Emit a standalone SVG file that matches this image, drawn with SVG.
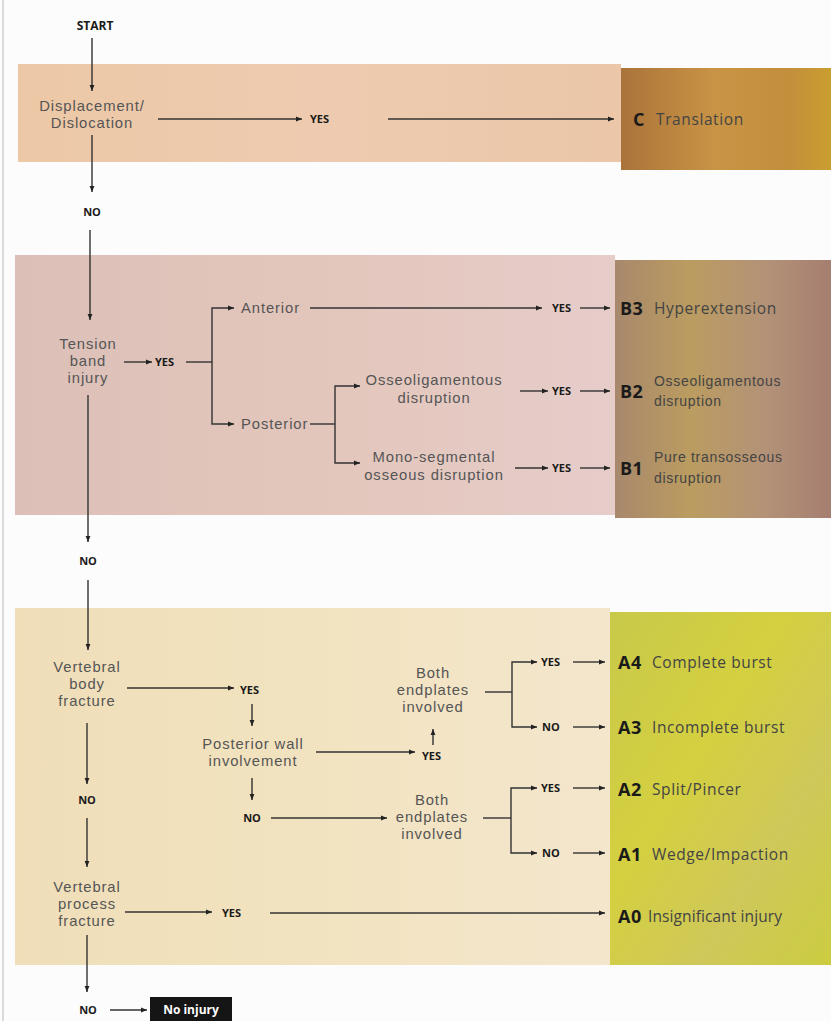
<svg xmlns="http://www.w3.org/2000/svg" width="831" height="1021" viewBox="0 0 831 1021">
<defs>
<marker id="ah" viewBox="0 0 10 10" refX="10" refY="5" markerWidth="7" markerHeight="6" orient="auto" markerUnits="userSpaceOnUse"><path d="M0,1 L10,5 L0,9 z" fill="#222"/></marker>
<linearGradient id="g1d" x1="0" y1="0" x2="1" y2="0"><stop offset="0" stop-color="#aa733a"/><stop offset="0.45" stop-color="#c99445"/><stop offset="0.8" stop-color="#c38f3c"/><stop offset="1" stop-color="#c99e30"/></linearGradient>
<linearGradient id="g1l" x1="0" y1="0" x2="1" y2="0"><stop offset="0" stop-color="#ecc8a6"/><stop offset="0.5" stop-color="#eecbb0"/><stop offset="1" stop-color="#ebc6a8"/></linearGradient>
<linearGradient id="g2l" x1="0" y1="0" x2="1" y2="0"><stop offset="0" stop-color="#dcc0b8"/><stop offset="0.5" stop-color="#e3c6bb"/><stop offset="1" stop-color="#e6cdca"/></linearGradient>
<linearGradient id="g2d" x1="0" y1="0" x2="1" y2="0"><stop offset="0" stop-color="#a8886c"/><stop offset="0.35" stop-color="#bb9c60"/><stop offset="0.7" stop-color="#b39278"/><stop offset="1" stop-color="#a67e70"/></linearGradient>
<linearGradient id="g3l" x1="0" y1="0" x2="1" y2="0"><stop offset="0" stop-color="#efdeb8"/><stop offset="0.5" stop-color="#f2e3c0"/><stop offset="1" stop-color="#f3e6cc"/></linearGradient>
<linearGradient id="g3d" x1="0" y1="0" x2="1" y2="1"><stop offset="0" stop-color="#c9c94a"/><stop offset="0.4" stop-color="#d4d040"/><stop offset="0.7" stop-color="#cfc85a"/><stop offset="1" stop-color="#cccc40"/></linearGradient>
<style>
.t{font-family:"Liberation Sans",Arial,sans-serif;font-size:14.8px;letter-spacing:0.9px;fill:#555}
.tc{text-anchor:middle}
.b{font-family:"Open Sans","Liberation Sans",sans-serif;font-size:11px;font-weight:bold;fill:#1a1a1a}
.code{font-family:"Open Sans","Liberation Sans",sans-serif;font-size:18px;font-weight:bold;letter-spacing:0.5px;fill:#1a1a1a}
.r{font-family:"Open Sans","Liberation Sans",sans-serif;font-size:15.5px;letter-spacing:0.6px;fill:#444}
.rs{font-family:"Liberation Sans",Arial,sans-serif;font-size:14px;letter-spacing:0.7px;fill:#444}
.c line,.c path{stroke:#333;stroke-width:1.4;fill:none}
.a{marker-end:url(#ah)}
</style>
</defs>
<rect width="831" height="1021" fill="#fcfcfc"/>
<line x1="3" y1="0" x2="3" y2="1021" stroke="#cfcfcf" stroke-width="1.5"/>
<g id="bands">
<rect x="18" y="64" width="603" height="98" fill="url(#g1l)"/>
<rect x="621" y="68" width="210" height="102" fill="url(#g1d)"/>
<rect x="15" y="255" width="600" height="260" fill="url(#g2l)"/>
<rect x="615" y="260" width="216" height="258" fill="url(#g2d)"/>
<rect x="15" y="608" width="595" height="357" fill="url(#g3l)"/>
<rect x="610" y="612" width="221" height="353" fill="url(#g3d)"/>
</g>
<g class="c">
<line class="a" x1="92" y1="38" x2="92" y2="91"/>
<line class="a" x1="158" y1="119" x2="302" y2="119"/>
<line class="a" x1="388" y1="119" x2="614" y2="119"/>
<line class="a" x1="92" y1="135" x2="92" y2="192"/>
<line class="a" x1="90" y1="230" x2="90" y2="320"/>
<line class="a" x1="124" y1="362" x2="152" y2="362"/>
<line x1="186" y1="362" x2="212" y2="362"/>
<path class="a" d="M212,362 V308 H234"/>
<path class="a" d="M212,362 V424 H234"/>
<line class="a" x1="310" y1="308" x2="542" y2="308"/>
<line class="a" x1="580" y1="308" x2="610" y2="308"/>
<line x1="310" y1="424" x2="335" y2="424"/>
<path class="a" d="M335,424 V386 H360"/>
<path class="a" d="M335,424 V463 H360"/>
<line class="a" x1="520" y1="391" x2="548" y2="391"/>
<line class="a" x1="580" y1="391" x2="610" y2="391"/>
<line class="a" x1="515" y1="468" x2="548" y2="468"/>
<line class="a" x1="580" y1="468" x2="610" y2="468"/>
<line class="a" x1="88" y1="395" x2="88" y2="542"/>
<line class="a" x1="88" y1="580" x2="88" y2="650"/>
<line class="a" x1="127" y1="688" x2="234" y2="688"/>
<line class="a" x1="252" y1="704" x2="252" y2="726"/>
<line class="a" x1="316" y1="752" x2="415" y2="752"/>
<line class="a" x1="433" y1="745" x2="433" y2="729"/>
<line x1="485" y1="692" x2="512" y2="692"/>
<path class="a" d="M512,692 V662 H537"/>
<path class="a" d="M512,692 V727 H537"/>
<line class="a" x1="573" y1="662" x2="605" y2="662"/>
<line class="a" x1="573" y1="727" x2="605" y2="727"/>
<line class="a" x1="252" y1="778" x2="252" y2="800"/>
<line class="a" x1="271" y1="818" x2="387" y2="818"/>
<line x1="483" y1="818" x2="511" y2="818"/>
<path class="a" d="M511,818 V788 H537"/>
<path class="a" d="M511,818 V853 H537"/>
<line class="a" x1="573" y1="788" x2="605" y2="788"/>
<line class="a" x1="573" y1="853" x2="605" y2="853"/>
<line class="a" x1="87" y1="723" x2="87" y2="784"/>
<line class="a" x1="87" y1="818" x2="87" y2="867"/>
<line class="a" x1="125" y1="912" x2="212" y2="912"/>
<line class="a" x1="270" y1="913" x2="605" y2="913"/>
<line class="a" x1="87" y1="935" x2="87" y2="992"/>
<line class="a" x1="110" y1="1010" x2="147" y2="1010"/>
</g>
<g id="start"><text class="b tc" x="95" y="30" style="font-size:12px">START</text></g>
<g id="n-displacement"><text class="t tc" x="92" y="111">Displacement/</text><text class="t tc" x="92" y="128">Dislocation</text></g>
<g id="y1"><text class="b" x="310" y="123">YES</text></g>
<g id="C"><text class="code" x="633" y="126">C</text><text class="r" x="656" y="125">Translation</text></g>
<g id="no1"><text class="b tc" x="92" y="216">NO</text></g>
<g id="n-tension"><text class="t tc" x="88" y="349">Tension</text><text class="t tc" x="88" y="366">band</text><text class="t tc" x="88" y="383">injury</text></g>
<g id="y2"><text class="b" x="155" y="366">YES</text></g>
<g id="n-anterior"><text class="t" x="241" y="313">Anterior</text></g>
<g id="n-posterior"><text class="t" x="241" y="429">Posterior</text></g>
<g id="n-osseo"><text class="t tc" x="434" y="385">Osseoligamentous</text><text class="t tc" x="434" y="403">disruption</text></g>
<g id="n-mono"><text class="t tc" x="434" y="462">Mono-segmental</text><text class="t tc" x="434" y="480">osseous disruption</text></g>
<g id="y3"><text class="b" x="552" y="312">YES</text></g>
<g id="y4"><text class="b" x="552" y="395">YES</text></g>
<g id="y5"><text class="b" x="552" y="472">YES</text></g>
<g id="B3"><text class="code" x="620" y="315">B3</text><text class="r" x="654" y="314">Hyperextension</text></g>
<g id="B2"><text class="code" x="620" y="398">B2</text><text class="rs" x="654" y="386">Osseoligamentous</text><text class="rs" x="654" y="406">disruption</text></g>
<g id="B1"><text class="code" x="620" y="475">B1</text><text class="rs" x="654" y="462">Pure transosseous</text><text class="rs" x="654" y="483">disruption</text></g>
<g id="no2"><text class="b tc" x="88" y="565">NO</text></g>
<g id="n-vbody"><text class="t tc" x="87" y="672">Vertebral</text><text class="t tc" x="87" y="689">body</text><text class="t tc" x="87" y="706">fracture</text></g>
<g id="y6"><text class="b" x="240" y="694">YES</text></g>
<g id="n-pwall"><text class="t tc" x="253" y="749">Posterior wall</text><text class="t tc" x="253" y="766">involvement</text></g>
<g id="y7"><text class="b" x="422" y="760">YES</text></g>
<g id="n-both1"><text class="t tc" x="433" y="678">Both</text><text class="t tc" x="433" y="695">endplates</text><text class="t tc" x="433" y="712">involved</text></g>
<g id="y8"><text class="b" x="541" y="666">YES</text></g>
<g id="no3"><text class="b" x="542" y="731">NO</text></g>
<g id="A4"><text class="code" x="618" y="669">A4</text><text class="r" x="652" y="668">Complete burst</text></g>
<g id="A3"><text class="code" x="618" y="734">A3</text><text class="r" x="652" y="733">Incomplete burst</text></g>
<g id="no4"><text class="b tc" x="252" y="822">NO</text></g>
<g id="n-both2"><text class="t tc" x="432" y="805">Both</text><text class="t tc" x="432" y="822">endplates</text><text class="t tc" x="432" y="839">involved</text></g>
<g id="y9"><text class="b" x="541" y="792">YES</text></g>
<g id="no5"><text class="b" x="542" y="857">NO</text></g>
<g id="A2"><text class="code" x="618" y="796">A2</text><text class="r" x="652" y="795">Split/Pincer</text></g>
<g id="A1"><text class="code" x="618" y="861">A1</text><text class="r" x="652" y="860">Wedge/Impaction</text></g>
<g id="no6"><text class="b tc" x="87" y="804">NO</text></g>
<g id="n-vproc"><text class="t tc" x="87" y="892">Vertebral</text><text class="t tc" x="87" y="909">process</text><text class="t tc" x="87" y="926">fracture</text></g>
<g id="y10"><text class="b" x="222" y="917">YES</text></g>
<g id="A0"><text class="code" x="618" y="923">A0</text><text class="r" x="648" y="922" style="letter-spacing:0.1px">Insignificant injury</text></g>
<g id="no7"><text class="b tc" x="88" y="1014">NO</text></g>
<g id="noinjury"><rect x="150" y="997" width="82" height="24" fill="#151515"/><text class="b tc" x="191" y="1014" style="fill:#fff;font-size:12px">No injury</text></g>
</svg>
